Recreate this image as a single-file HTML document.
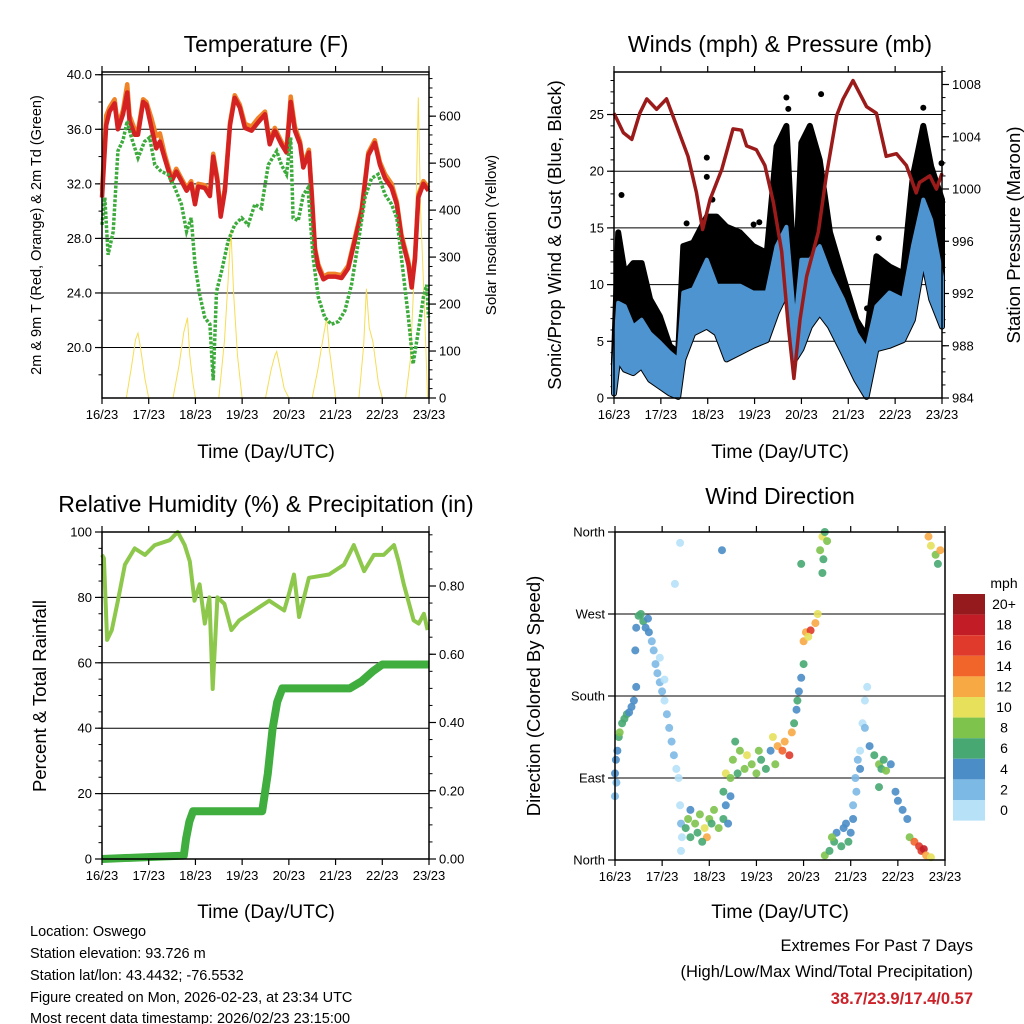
<!DOCTYPE html>
<html><head><meta charset="utf-8">
<style>
html,body{margin:0;padding:0;background:#fff;}
svg{display:block;font-family:"Liberation Sans",sans-serif;}
</style></head>
<body>
<svg id="chart" width="1024" height="1024" viewBox="0 0 1024 1024" xmlns="http://www.w3.org/2000/svg">
<rect x="0" y="0" width="1024" height="1024" fill="#fff"/>
<text x="266" y="52" font-size="23" text-anchor="middle">Temperature (F)</text>
<text x="780" y="52" font-size="23" text-anchor="middle">Winds (mph) &amp; Pressure (mb)</text>
<text x="266" y="512" font-size="23" text-anchor="middle">Relative Humidity (%) &amp; Precipitation (in)</text>
<text x="780" y="504" font-size="23" text-anchor="middle">Wind Direction</text>
<text x="266" y="458" font-size="19" text-anchor="middle">Time (Day/UTC)</text>
<text x="780" y="458" font-size="19" text-anchor="middle">Time (Day/UTC)</text>
<text x="266" y="918" font-size="19" text-anchor="middle">Time (Day/UTC)</text>
<text x="780" y="918" font-size="19" text-anchor="middle">Time (Day/UTC)</text>
<text transform="translate(41,235) rotate(-90)" font-size="14.5" text-anchor="middle">2m &amp; 9m T (Red, Orange) &amp; 2m Td (Green)</text>
<text transform="translate(496,235) rotate(-90)" font-size="15" text-anchor="middle">Solar Insolation (Yellow)</text>
<text transform="translate(561,235) rotate(-90)" font-size="18.5" text-anchor="middle">Sonic/Prop Wind &amp; Gust (Blue, Black)</text>
<text transform="translate(1020,235) rotate(-90)" font-size="18.5" text-anchor="middle">Station Pressure (Maroon)</text>
<text transform="translate(46,696) rotate(-90)" font-size="18.5" text-anchor="middle">Percent &amp; Total Rainfall</text>
<text transform="translate(540,696) rotate(-90)" font-size="18.5" text-anchor="middle">Direction (Colored By Speed)</text>
<g font-size="14.5">
<text x="30" y="936">Location: Oswego</text>
<text x="30" y="958">Station elevation: 93.726 m</text>
<text x="30" y="980">Station lat/lon: 43.4432; -76.5532</text>
<text x="30" y="1002">Figure created on Mon, 2026-02-23, at 23:34 UTC</text>
<text x="30" y="1023">Most recent data timestamp: 2026/02/23 23:15:00</text>
</g>
<text x="973" y="951" font-size="16.5" text-anchor="end">Extremes For Past 7 Days</text>
<text x="973" y="977" font-size="16.5" text-anchor="end">(High/Low/Max Wind/Total Precipitation)</text>
<text x="973" y="1004" font-size="16.5" font-weight="bold" fill="#cc2229" text-anchor="end">38.7/23.9/17.4/0.57</text>
</svg>
<script>
// ---------- DATA ----------
const dayLabels = ["16/23","17/23","18/23","19/23","20/23","21/23","22/23","23/23"];
// Temperature
const tTimes = [0,.09,.16,.27,.34,.45,.54,.59,.70,.77,.88,.95,1.06,1.16,1.24,1.34,1.49,1.59,1.70,1.81,1.91,1.99,2.06,2.20,2.31,2.38,2.47,2.54,2.63,2.74,2.84,2.95,3.06,3.20,3.34,3.49,3.59,3.70,3.84,3.95,4.04,4.13,4.24,4.31,4.43,4.49,4.56,4.63,4.74,4.84,4.99,5.13,5.27,5.41,5.56,5.70,5.84,5.95,6.06,6.20,6.31,6.41,6.56,6.63,6.70,6.77,6.88,6.99];
const temp2m = [31,36.3,37.3,37.9,36,37.1,38.7,36.6,35.6,35.6,38,37.8,36.1,34.6,35.1,33.9,32.2,32.9,32.2,31.5,32,30.5,31.8,31.7,31.1,34,32.2,29.6,31.5,36.3,38.3,37.6,36.1,35.9,36.5,37.1,34.9,35.9,34.9,34.3,38,35.9,34.9,33.2,34.3,31.2,27.1,25.9,25,25.2,25.2,25.1,25.8,27.8,30,34.1,35,33.4,32.4,31.7,30.5,28.1,26.1,24.4,26.5,31,32,31.5];
const temp9m = [31.5,37,37.6,38.2,36.3,37.4,39.3,37,36,35.9,38.2,38,36.8,35.5,35.7,34.2,32.4,33.1,32.4,31.7,32.2,30.7,32,31.9,31.3,34.2,32.4,29.8,31.7,36.5,38.5,37.8,36.4,36.2,36.8,37.3,35.1,36.1,35.1,34.5,38.4,36.2,35.1,33.4,34.5,31.4,27.3,26.1,25.2,25.4,25.4,25.3,26,28,30.2,34.3,35.2,33.6,32.7,32,30.7,28.3,26.3,24.6,26.7,31.2,32.2,31.7];
const tdTimes = [0,.06,.13,.24,.34,.45,.54,.63,.77,.91,1.02,1.13,1.27,1.41,1.56,1.70,1.81,1.91,1.99,2.09,2.20,2.31,2.38,2.45,2.56,2.70,2.84,2.99,3.13,3.27,3.41,3.56,3.74,3.84,3.95,4.04,4.09,4.20,4.31,4.41,4.52,4.63,4.77,4.91,5.06,5.20,5.34,5.49,5.63,5.77,5.91,6.06,6.20,6.31,6.41,6.56,6.66,6.77,6.88,6.95,6.99];
const dewpoint = [29,31,26.8,28.5,34.4,35.2,36.6,35.4,33.9,35.1,35.4,33.4,32.9,32.7,31.7,30.5,28.5,29.5,26.1,23.9,22.2,21.7,17.6,24.1,25.6,27.8,29,29.5,29,30.5,30.2,33.4,34.4,33.4,32.7,35.4,29.5,29.3,31.2,31.7,26.6,23.7,22.2,21.7,21.9,22.7,24.6,27.8,31,32.4,32.7,31.2,30.5,29.5,26.6,22.2,18.8,21.2,23.7,24.6,22.2];
const solTimes = [0,.52,.62,.72,.77,.82,.92,1.0,1.52,1.65,1.75,1.83,1.88,1.95,2.0,2.5,2.62,2.70,2.76,2.82,2.9,3.0,3.5,3.62,3.70,3.74,3.80,3.9,4.0,4.5,4.62,4.72,4.81,4.86,4.95,5.0,5.5,5.6,5.66,5.72,5.8,5.92,6.0,6.5,6.6,6.7,6.77,6.82,6.9,6.97,7.0];
const solar = [0,0,60,125,138,110,40,0,0,70,140,171,90,30,0,0,120,250,358,220,90,0,0,60,90,99,70,20,0,0,60,120,171,110,40,0,0,110,233,150,120,30,0,0,80,300,640,400,200,0,0];
// Winds
const wTimes = [0,.09,.23,.41,.59,.77,.98,1.19,1.37,1.48,1.69,1.98,2.19,2.4,2.69,2.97,3.26,3.47,3.68,3.86,4.0,4.18,4.39,4.61,4.89,5.17,5.39,5.6,5.88,6.17,6.38,6.6,6.77,7];
const windLo = [.4,3.4,2.5,2.2,2.8,1.6,1,.4,.1,3.4,5.7,6.3,5.7,3.4,4,4.6,5.1,7.5,9.3,3.4,4.3,6.3,7.5,6.3,4,1.6,.1,4.3,4.6,5.1,6.9,12.2,8.7,6.3];
const windHi = [2.8,8.4,8.1,6.3,6.9,5.7,4.9,4,3.4,9.3,9.6,12.2,9.9,9.9,9.9,9.3,9.3,13.4,15.1,6.3,12.2,12.2,13.4,11,8.7,5.7,4.3,8.1,9.3,8.7,13.4,17.5,15.7,10.7];
const gustLo = [.4,3.4,2.5,2.2,2.8,1.6,1,.4,.1,3.4,5.7,6.3,5.7,3.4,4,4.6,5.1,7.5,9.3,3.4,4.3,6.3,7.5,6.3,4,1.6,.1,4.3,4.6,5.1,6.9,12.2,8.7,6.3];
const gustHi = [3.4,14.6,11,11.9,11.9,8.7,7.2,4.6,4,13.4,13.7,16,16,15.1,14.6,13.4,12.8,22.2,24,9.3,22.5,24,21,14.6,10.7,6.9,5.4,12.5,11.6,11,19.6,24,20.4,17.5];
const gustDotT = [.16,1.55,1.98,1.98,2.98,3.68,3.72,4.42,5.4,5.65,6.6,6.99,2.1,3.1];
const gustDotV = [17.9,15.4,21.2,19.5,15.3,26.5,25.5,26.8,7.9,14.1,25.6,20.7,17.5,15.5];
const pTimes = [0,.2,.38,.55,.70,.91,1.12,1.34,1.58,1.76,1.89,2.05,2.30,2.54,2.72,2.83,3.04,3.22,3.40,3.58,3.72,3.84,3.97,4.11,4.36,4.53,4.75,4.89,5.10,5.39,5.60,5.81,6.03,6.24,6.45,6.52,6.74,6.88,7.0];
const pressure = [1005.8,1004.3,1003.8,1005.8,1006.9,1006.1,1006.9,1004.8,1002.5,999.7,996.9,999.2,1001.5,1004.6,1004.5,1003.3,1003,1001.8,999,995.2,989.5,985.5,990,993.3,996.7,1001,1005.6,1006.9,1008.3,1006.3,1005.8,1002.5,1002.7,1001.8,999.7,1000.5,1001,1000,1001.2];
// Humidity / precip
const rhTimes = [0,.04,.11,.21,.34,.49,.70,.92,1.13,1.45,1.62,1.77,1.88,1.98,2.09,2.2,2.3,2.37,2.47,2.62,2.77,2.94,3.26,3.58,3.9,4.0,4.11,4.22,4.43,4.86,5.18,5.39,5.61,5.82,6.03,6.25,6.35,6.46,6.67,6.78,6.89,6.97];
const rh = [93,92,67,70,79,90,95,93,96,97.5,100,96,91,79,84,72,80,52,80,78,70,73,76,79,76,81,87,74,86,87,90,96,88,93,93,96,91,84,73,72,75,70];
const prTimes = [0,1.75,1.8,1.87,1.95,3.43,3.55,3.65,3.75,3.86,5.3,5.55,5.8,6.0,7.0];
const precip = [0,0.01,0.06,0.11,0.14,0.14,0.25,0.38,0.46,0.5,0.5,0.52,0.55,0.57,0.57];
// Wind direction
const dirTimes = [0,.02,.03,.05,.08,.1,.15,.2,.25,.3,.35,.4,.45,0,
 .43,.45,.5,.55,.6,.65,.7,.72,
 .78,.82,.86,.9,.95,1,1.05,1.1,1.15,1.2,1.25,1.3,1.35,.95,1.05,
 1.38,1.4,1.4,1.42,
 1.5,1.55,1.6,1.7,1.75,1.8,1.9,1.95,2,2.05,2.1,2.2,2.3,2.35,2.4,1.6,1.85,
 2.3,2.35,2.45,2.45,
 2.5,2.55,2.65,2.75,2.8,2.9,3,3.1,3.2,3.3,3.4,2.6,3.05,
 3.35,3.45,3.55,3.6,3.7,3.75,
 3.8,3.85,3.9,3.95,4,3.87,
 4,4.05,4.15,4.25,4.3,4.1,
 3.95,4.4,
 4.35,4.4,4.45,4.5,4.42,
 4.45,4.55,4.65,4.7,4.8,4.85,4.9,5,5.05,4.6,4.95,
 5.05,5.1,5.15,5.2,5.25,5.3,5.35,5.2,5.12,
 5.3,5.4,5.5,5.6,5.65,5.7,5.75,5.85,5.6,
 5.95,6,6.1,6.2,
 6.25,6.35,6.45,6.5,6.55,6.6,6.7,
 6.65,6.7,6.8,6.85,6.9,
 1.38,2.27,1.27];
const dirDeg = [95,110,85,120,135,140,150,155,160,162,168,175,190,70,
 230,255,268,270,262,255,265,250,
 240,230,215,205,195,185,175,160,145,130,115,100,90,222,198,
 60,40,10,25,
 35,45,25,40,30,50,35,25,45,40,55,35,45,60,40,55,20,
 75,95,90,70,
 110,130,120,100,115,105,95,110,100,120,105,95,120,
 135,125,120,130,115,140,
 150,165,185,200,215,175,
 240,250,252,260,270,245,
 325,315,
 340,355,360,350,330,
 5,10,20,30,15,35,40,30,45,25,20,
 60,90,110,120,150,175,190,100,75,
 145,125,115,105,100,110,98,105,80,
 75,65,55,45,
 25,20,15,10,12,5,3,
 355,345,335,325,340,
 348,340,303];
const dirSpeed = [4,4,2,4,6,8,6,6,6,4,4,4,4,2,
 4,4,6,6,6,4,4,4,
 2,2,2,2,2,2,1,2,2,2,2,1,1,0,0,
 1,2,1,0,
 6,8,6,8,6,8,10,12,8,6,8,8,6,4,4,4,6,
 6,10,8,4,
 8,6,8,8,10,8,8,6,6,4,8,6,8,
 10,12,14,12,16,12,
 6,4,4,4,6,6,
 12,12,16,12,10,10,
 6,6,
 8,10,6,8,6,
 8,6,6,4,6,4,4,4,4,8,6,
 2,2,2,1,1,0,0,4,2,
 2,4,6,8,6,6,8,4,6,
 4,4,4,4,
 8,14,16,16,18,12,10,
 12,10,8,6,12,
 0,4,0];
const speedColors = ["#b6e1f7","#7db9e5","#4a8dc7","#48a872","#7ec34c","#e6e05b","#f7a944","#f1652b","#df3a2b","#c21d27","#941a1e"];
const speedLabels = ["0","2","4","6","8","10","12","14","16","18","20+"];

// ---------- HELPERS ----------
const NS = "http://www.w3.org/2000/svg";
const svg = document.getElementById("chart");
function mk(parent, tag, attrs, name) {
  const el = document.createElementNS(NS, tag);
  for (const k in attrs) el.setAttribute(k, attrs[k]);
  
  
  parent.appendChild(el);
  return el;
}
function lin(d0, d1, r0, r1) { return v => r0 + (v - d0) * (r1 - r0) / (d1 - d0); }
function pathFrom(xs, ys, sx, sy) {
  return xs.map((t, i) => (i ? "L" : "M") + sx(t).toFixed(1) + "," + sy(ys[i]).toFixed(1)).join("");
}
function bandFrom(xs, lo, hi, sx, sy) {
  let d = xs.map((t, i) => (i ? "L" : "M") + sx(t).toFixed(1) + "," + sy(hi[i]).toFixed(1)).join("");
  for (let i = xs.length - 1; i >= 0; i--) d += "L" + sx(xs[i]).toFixed(1) + "," + sy(lo[i]).toFixed(1);
  return d + "Z";
}
function panelFrame(g, X0, X1, Y0, Y1, sx, name) {
  mk(g, "rect", {x: X0, y: Y0, width: X1 - X0, height: Y1 - Y0, fill: "none", stroke: "#000", "stroke-width": 1.5}, name + "-frame");
  dayLabels.forEach((lab, i) => {
    const x = sx(i);
    mk(g, "line", {x1: x, x2: x, y1: Y1, y2: Y1 + 6, stroke: "#000", "stroke-width": 1.2}, name + "-x-tick");
    mk(g, "line", {x1: x, x2: x, y1: Y0, y2: Y0 - 6, stroke: "#000", "stroke-width": 1.2}, name + "-x-tick-top");
    const t = mk(g, "text", {x: x, y: Y1 + 21, "font-size": 13, "text-anchor": "middle"}, name + "-x-tick-label");
    t.textContent = lab;
  });
}
function yAxis(g, X, ticks, labels, minors, sy, side, name, grid, X0, X1) {
  const dir = side === "left" ? -1 : 1;
  minors.forEach(v => mk(g, "line", {x1: X, x2: X + dir * 3.5, y1: sy(v), y2: sy(v), stroke: "#000", "stroke-width": 1}, name + "-minor-tick"));
  ticks.forEach((v, i) => {
    const y = sy(v);
    mk(g, "line", {x1: X, x2: X + dir * 7, y1: y, y2: y, stroke: "#000", "stroke-width": 1.2}, name + "-tick");
    if (grid) mk(g, "line", {x1: X0, x2: X1, y1: y, y2: y, stroke: "#000", "stroke-width": 1}, name + "-gridline");
    const t = mk(g, "text", {x: X + dir * 10, y: y + 4.5, "font-size": 13, "text-anchor": side === "left" ? "end" : "start"}, name + "-tick-label");
    t.textContent = labels[i];
  });
}
function range(a, b, s) { const r = []; for (let v = a; v <= b + 1e-9; v += s) r.push(+v.toFixed(4)); return r; }

// ---------- PANEL 1: TEMPERATURE ----------
(function () {
  const g = mk(svg, "g", {}, "temperature-panel");
  const X0 = 102, X1 = 429, Y0 = 72, Y1 = 398;
  const sx = lin(0, 7, X0, X1), sy = lin(16.3, 40.2, Y1, Y0), ss = lin(0, 694, Y1, Y0);
  const tks = [20, 24, 28, 32, 36, 40];
  yAxis(g, X0, tks, tks.map(v => v.toFixed(1)), range(18, 40, 2), sy, "left", "temp-y", true, X0, X1);
  const stks = [0, 100, 200, 300, 400, 500, 600];
  yAxis(g, X1, stks, stks.map(String), range(0, 680, 20), ss, "right", "solar-y", false);
  mk(g, "path", {d: pathFrom(solTimes, solar, sx, ss), fill: "none", stroke: "#f6dd55", "stroke-width": 1}, "solar-insolation-line");
  mk(g, "path", {d: pathFrom(tTimes, temp9m, sx, sy), fill: "none", stroke: "#f08228", "stroke-width": 4.5, "stroke-linejoin": "round"}, "temp-9m-line");
  mk(g, "path", {d: pathFrom(tTimes, temp2m, sx, sy), fill: "none", stroke: "#d42222", "stroke-width": 4.5, "stroke-linejoin": "round"}, "temp-2m-line");
  mk(g, "path", {d: pathFrom(tdTimes, dewpoint, sx, sy), fill: "none", stroke: "#3cab3c", "stroke-width": 3.5, "stroke-dasharray": "3 1.6"}, "dewpoint-line");
  panelFrame(g, X0, X1, Y0, Y1, sx, "temp");
})();

// ---------- PANEL 2: WINDS ----------
(function () {
  const g = mk(svg, "g", {}, "winds-panel");
  const X0 = 614, X1 = 942, Y0 = 72, Y1 = 398;
  const sx = lin(0, 7, X0, X1), sy = lin(0, 28.75, Y1, Y0), sp = lin(984, 1008, 398, 84.5);
  const tks = [0, 5, 10, 15, 20, 25];
  yAxis(g, X0, tks, tks.map(String), range(0, 28, 1), sy, "left", "wind-y", true, X0, X1);
  const ptks = [984, 988, 992, 996, 1000, 1004, 1008];
  yAxis(g, X1, ptks, ptks.map(String), range(984, 1009, 1), sp, "right", "pressure-y", false);
  mk(g, "path", {d: bandFrom(wTimes, gustLo, gustHi, sx, sy), fill: "#000", stroke: "#000", "stroke-width": 6, "stroke-linejoin": "round"}, "gust-scatter");
  gustDotT.forEach((t, i) => {
    mk(g, "circle", {cx: sx(t).toFixed(1), cy: sy(gustDotV[i]).toFixed(1), r: 3, fill: "#000"}, "gust-point");
  });
  mk(g, "path", {d: bandFrom(wTimes, windLo, windHi, sx, sy), fill: "#4d94d0", stroke: "#4d94d0", "stroke-width": 4, "stroke-linejoin": "round"}, "wind-scatter");
  mk(g, "path", {d: pathFrom(pTimes, pressure, sx, sp), fill: "none", stroke: "#9b1b1b", "stroke-width": 3.5, "stroke-linejoin": "round"}, "pressure-line");
  panelFrame(g, X0, X1, Y0, Y1, sx, "wind");
})();

// ---------- PANEL 3: HUMIDITY ----------
(function () {
  const g = mk(svg, "g", {}, "humidity-panel");
  const X0 = 102, X1 = 429, Y0 = 532, Y1 = 859;
  const sx = lin(0, 7, X0, X1), sy = lin(0, 100, Y1, Y0), sr = lin(0, 0.8, 859, 586);
  const tks = [0, 20, 40, 60, 80, 100];
  yAxis(g, X0, tks, tks.map(String), range(0, 100, 5), sy, "left", "rh-y", true, X0, X1);
  const rtks = [0, 0.2, 0.4, 0.6, 0.8];
  yAxis(g, X1, rtks, rtks.map(v => v.toFixed(2)), range(0, 0.95, 0.05), sr, "right", "precip-y", false);
  mk(g, "path", {d: pathFrom(rhTimes, rh, sx, sy), fill: "none", stroke: "#8dc84c", "stroke-width": 4, "stroke-linejoin": "round"}, "rh-line");
  mk(g, "path", {d: pathFrom(prTimes, precip, sx, sr), fill: "none", stroke: "#3fae3f", "stroke-width": 8, "stroke-linejoin": "round"}, "precip-line");
  panelFrame(g, X0, X1, Y0, Y1, sx, "rh");
})();

// ---------- PANEL 4: WIND DIRECTION ----------
(function () {
  const g = mk(svg, "g", {}, "direction-panel");
  const X0 = 615, X1 = 945, Y0 = 532, Y1 = 860;
  const sx = lin(0, 7, X0, X1), sy = lin(0, 360, Y1, Y0);
  const tks = [0, 90, 180, 270, 360];
  yAxis(g, X0, tks, ["North", "East", "South", "West", "North"], [], sy, "left", "dir-y", false);
  [90, 180, 270].forEach(v => mk(g, "line", {x1: X0, x2: X1, y1: sy(v), y2: sy(v), stroke: "#000", "stroke-width": 1}, "dir-gridline"));
  dirTimes.forEach((t, i) => {
    const c = speedColors[Math.min(10, Math.floor(dirSpeed[i] / 2))];
    mk(g, "circle", {cx: sx(t).toFixed(1), cy: sy(dirDeg[i]).toFixed(1), r: 4, fill: c, "fill-opacity": 0.9}, "direction-point");
  });
  panelFrame(g, X0, X1, Y0, Y1, sx, "dir");
  const lg = mk(svg, "g", {}, "speed-colorbar");
  const t0 = mk(lg, "text", {x: 1004, y: 588, "font-size": 14, "text-anchor": "middle"}, "colorbar-unit");
  t0.textContent = "mph";
  for (let k = 0; k < 11; k++) {
    const idx = 10 - k, y = 594 + k * 20.6;
    mk(lg, "rect", {x: 953, y: y, width: 32, height: 20.6, fill: speedColors[idx]}, "colorbar-swatch");
    const t = mk(lg, "text", {x: 1004, y: y + 15, "font-size": 14, "text-anchor": "middle"}, "colorbar-label");
    t.textContent = speedLabels[idx];
  }
})();
</script>
</body></html>
